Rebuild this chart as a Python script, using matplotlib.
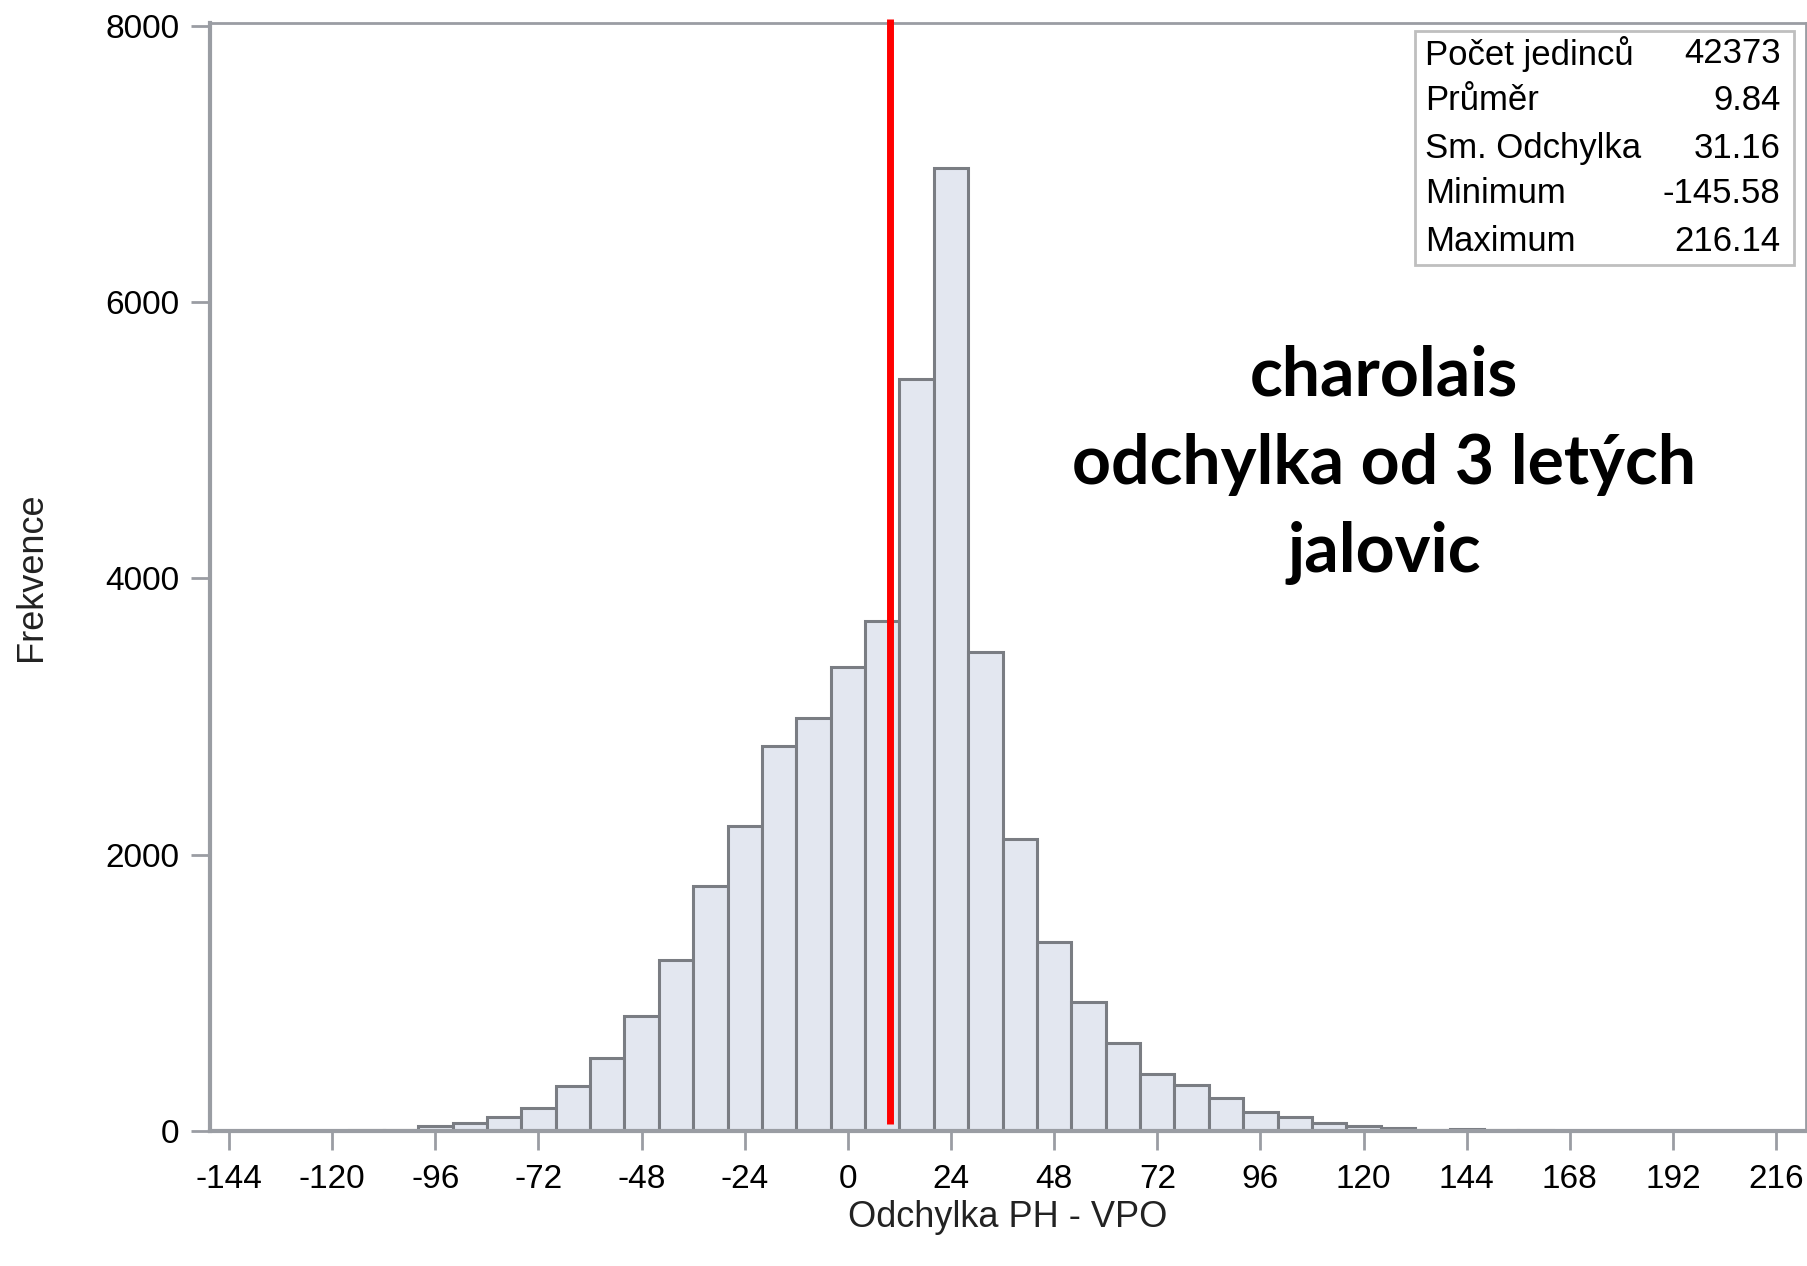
import numpy as np
import matplotlib.pyplot as plt

# bin centres (width 8) and counts
bin_centers = list(range(-144, 217, 8))
counts = [2, 1, 2, 3, 5, 10, 40, 60, 100, 165, 325, 525, 830, 1240, 1770,
          2210, 2785, 2990, 3360, 3690, 5440, 6970, 3470, 2110, 1370, 935,
          640, 410, 335, 240, 140, 100, 60, 40, 20, 10, 12, 6, 4, 3, 2, 2,
          1, 1, 1, 1]
bin_width = 8
mean_value = 9.84

x_ticks = list(range(-144, 217, 24))
y_ticks = [0, 2000, 4000, 6000, 8000]

stat_labels = ['Počet jedinců', 'Průměr', 'Sm. Odchylka', 'Minimum', 'Maximum']
stat_values = ['42373', '9.84', '31.16', '-145.58', '216.14']

title_lines = 'charolais\nodchylka od 3 letých\njalovic'

plt.rcParams['font.family'] = ['Liberation Sans', 'DejaVu Sans']
plt.rcParams['axes.unicode_minus'] = False

fig = plt.figure(figsize=(18.08, 12.66), dpi=100)
ax = fig.add_axes([0.116, 0.1066, 0.883, 0.8754])

grey = '#9a9da3'
ax.bar(bin_centers, counts, width=bin_width, color='#e3e7f0',
       edgecolor='#7a7d83', linewidth=2.2, zorder=2)
ax.plot([mean_value, mean_value], [50, 8050], color='#ff0000', lw=5,
        solid_capstyle='butt', zorder=3, clip_on=False)

ax.set_xlim(-148.5, 223)
ax.set_ylim(0, 8020)
ax.set_xticks(x_ticks)
ax.set_yticks(y_ticks)
ax.tick_params(axis='both', colors=grey, labelcolor='black', labelsize=24,
               length=14, width=2, direction='out')
ax.tick_params(axis='x', pad=10)
ax.tick_params(axis='y', pad=8)
for s in ax.spines.values():
    s.set_color(grey)
    s.set_linewidth(2)
ax.spines['left'].set_linewidth(3)
ax.spines['bottom'].set_linewidth(3)

ax.set_xlabel('Odchylka PH - VPO', fontsize=26, labelpad=3, color='#222222')
ax.set_ylabel('Frekvence', fontsize=26, labelpad=40, color='#222222')

# stats box
box = plt.Rectangle((0.755, 0.781), 0.2375, 0.212, transform=ax.transAxes,
                    facecolor='white', edgecolor='#bfbfbf', lw=2, zorder=4)
ax.add_patch(box)
row_y = [0.972, 0.930, 0.887, 0.846, 0.803]
for lab, val, yy in zip(stat_labels, stat_values, row_y):
    ax.text(0.761, yy, lab, transform=ax.transAxes, fontsize=25,
            va='center', ha='left', zorder=5)
    ax.text(0.984, yy, val, transform=ax.transAxes, fontsize=25,
            va='center', ha='right', zorder=5)

ax.text(0.7356, 0.601, title_lines, transform=ax.transAxes, fontsize=49,
        fontweight='bold', family=['Lato', 'DejaVu Sans'], ha='center',
        va='center', linespacing=1.5, zorder=5)

fig.savefig('out.png', dpi=100)
